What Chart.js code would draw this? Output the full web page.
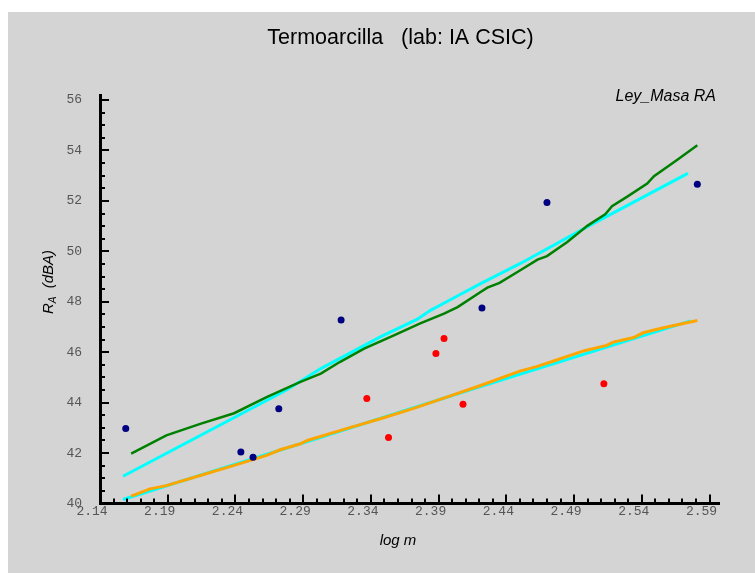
<!DOCTYPE html>
<html lang="es">
<head>
<meta charset="UTF-8">
<title>Termoarcilla (lab: IA CSIC)</title>
<script src="https://cdn.jsdelivr.net/npm/chart.js"></script>
<style>
  body { margin: 0; background: #fff; }
  #wrap { position: absolute; left: 8px; top: 12px; width: 747px; height: 561px; background: #d4d4d4; }
  canvas { display: block; }
</style>
</head>
<body>
<div id="wrap"><canvas id="chart" width="747" height="561"></canvas></div>
<script>
// tick labels
const xTicks = [2.14, 2.19, 2.24, 2.29, 2.34, 2.39, 2.44, 2.49, 2.54, 2.59];
const yTicks = [40, 42, 44, 46, 48, 50, 52, 54, 56];

// measured points (log m, RA)
const blueX = [2.159, 2.244, 2.253, 2.272, 2.318, 2.422, 2.470, 2.581];
const blueY = [42.97, 42.04, 41.83, 43.76, 47.28, 47.75, 51.94, 52.66];
const redX = [2.337, 2.353, 2.388, 2.394, 2.408, 2.512];
const redY = [44.16, 42.62, 45.95, 46.54, 43.94, 44.75];

// mass law curves
const greenX = [2.163, 2.189, 2.214, 2.239, 2.263, 2.288, 2.303, 2.317, 2.335, 2.357, 2.376, 2.394, 2.404,
  2.421, 2.426, 2.435, 2.450, 2.463, 2.470, 2.485, 2.500, 2.513, 2.518, 2.529, 2.544, 2.549, 2.566, 2.581];
const greenY = [41.98, 42.70, 43.16, 43.58, 44.22, 44.82, 45.15, 45.61, 46.14, 46.67, 47.13, 47.53, 47.79,
  48.39, 48.56, 48.75, 49.24, 49.67, 49.81, 50.37, 51.02, 51.47, 51.79, 52.16, 52.69, 52.98, 53.62, 54.21];

const orangeX = [2.163, 2.177, 2.189, 2.214, 2.239, 2.263, 2.273, 2.288, 2.293, 2.322, 2.347, 2.371, 2.396,
  2.421, 2.450, 2.463, 2.475, 2.497, 2.514, 2.519, 2.534, 2.541, 2.556, 2.581];
const orangeY = [40.29, 40.58, 40.71, 41.11, 41.51, 41.91, 42.13, 42.37, 42.50, 42.97, 43.36, 43.76, 44.22,
  44.68, 45.25, 45.44, 45.65, 46.05, 46.27, 46.40, 46.58, 46.77, 46.97, 47.26];

const cyanHiX = [2.157, 2.278, 2.303, 2.347, 2.374, 2.384, 2.399, 2.421, 2.450, 2.502, 2.574];
const cyanHiY = [41.08, 44.51, 45.35, 46.61, 47.30, 47.66, 48.09, 48.72, 49.51, 51.04, 53.09];
const cyanLoX = [2.157, 2.288, 2.421, 2.576];
const cyanLoY = [40.16, 42.37, 44.64, 47.24];

const pts = (xs, ys) => xs.map((x, i) => ({ x: x, y: ys[i] }));

const lineSet = (xs, ys, color, w) => ({
    data: pts(xs, ys),
    showLine: true,
    borderColor: color,
    borderWidth: w,
    pointRadius: 0,
    fill: false,
    tension: 0
});

const dotSet = (xs, ys, color) => ({
    data: pts(xs, ys),
    showLine: false,
    backgroundColor: color,
    borderColor: color,
    borderWidth: 0,
    pointRadius: 3.5
});

// title, inward tick marks, axis titles, corner note
const axisExtras = {
    id: 'axisExtras',
    afterDraw(chart) {
        const { ctx, chartArea: a, scales: { x, y } } = chart;
        ctx.save();
        ctx.strokeStyle = '#000';
        ctx.lineWidth = 2;
        ctx.beginPath();
        for (let i = 0; i <= 45; i++) {
            const px = Math.round(x.getPixelForValue(2.14 + i * 0.01));
            const len = i % 5 === 0 ? 9 : 5;
            ctx.moveTo(px, a.bottom);
            ctx.lineTo(px, a.bottom - len);
        }
        for (let i = 0; i <= 32; i++) {
            const py = Math.round(y.getPixelForValue(40 + i * 0.5));
            const len = i % 4 === 0 ? 9 : 5;
            ctx.moveTo(a.left, py);
            ctx.lineTo(a.left + len, py);
        }
        ctx.stroke();

        ctx.fillStyle = '#000';
        ctx.textBaseline = 'middle';
        ctx.textAlign = 'center';
        ctx.font = '21.5px "Liberation Sans"';
        ctx.fillText('Termoarcilla   (lab: IA CSIC)', 392.5, 26);

        ctx.font = 'italic 16px "Liberation Sans"';
        ctx.textAlign = 'right';
        ctx.fillText('Ley_Masa RA', a.right - 3, 85);

        ctx.font = 'italic 15px "Liberation Sans"';
        ctx.textAlign = 'center';
        ctx.fillText('log m', 390, 529);

        // R_A (dBA), rotated
        ctx.translate(41, 270);
        ctx.rotate(-Math.PI / 2);
        ctx.textAlign = 'left';
        const big = 'italic 15px "Liberation Sans"';
        const small = 'italic 10px "Liberation Sans"';
        ctx.font = big;
        const wR = ctx.measureText('R').width;
        const wTail = ctx.measureText('  (dBA)').width;
        ctx.font = small;
        const wA = ctx.measureText('A').width;
        let cx = -(wR + wA + wTail) / 2;
        ctx.font = big;
        ctx.fillText('R', cx, 0);
        cx += wR;
        ctx.font = small;
        ctx.fillText('A', cx, 4);
        cx += wA;
        ctx.font = big;
        ctx.fillText('  (dBA)', cx, 0);
        ctx.restore();
    }
};

new Chart(document.getElementById('chart'), {
    type: 'scatter',
    data: {
        datasets: [
            dotSet(blueX, blueY, '#000080'),
            dotSet(redX, redY, '#ff0000'),
            lineSet(greenX, greenY, '#008000', 2.5),
            lineSet(orangeX, orangeY, '#ffa500', 3),
            lineSet(cyanHiX, cyanHiY, '#00ffff', 3),
            lineSet(cyanLoX, cyanLoY, '#00ffff', 3)
        ]
    },
    options: {
        responsive: false,
        animation: false,
        layout: { padding: { left: 0, right: 36, top: 83, bottom: 0 } },
        plugins: {
            legend: { display: false },
            tooltip: { enabled: false },
            title: { display: false }
        },
        scales: {
            x: {
                type: 'linear',
                min: 2.14,
                max: 2.597,
                afterBuildTicks: s => { s.ticks = xTicks.map(v => ({ value: v })); },
                afterFit: s => { s.height = 69.5; },
                grid: { display: false, drawTicks: false },
                border: { display: true, color: '#000', width: 3 },
                ticks: {
                    padding: 0,
                    labelOffset: -8,
                    autoSkip: false,
                    maxRotation: 0,
                    color: '#555',
                    font: { family: 'Liberation Mono', size: 13 },
                    callback: v => v.toFixed(2)
                }
            },
            y: {
                type: 'linear',
                min: 40,
                max: 56.2,
                afterBuildTicks: s => { s.ticks = yTicks.map(v => ({ value: v })); },
                afterFit: s => { s.width = 92; },
                grid: { display: false, drawTicks: false },
                border: { display: true, color: '#000', width: 3 },
                ticks: {
                    padding: 18,
                    color: '#555',
                    font: { family: 'Liberation Mono', size: 13 },
                    callback: v => String(v)
                }
            }
        }
    },
    plugins: [axisExtras]
});
</script>
</body>
</html>
